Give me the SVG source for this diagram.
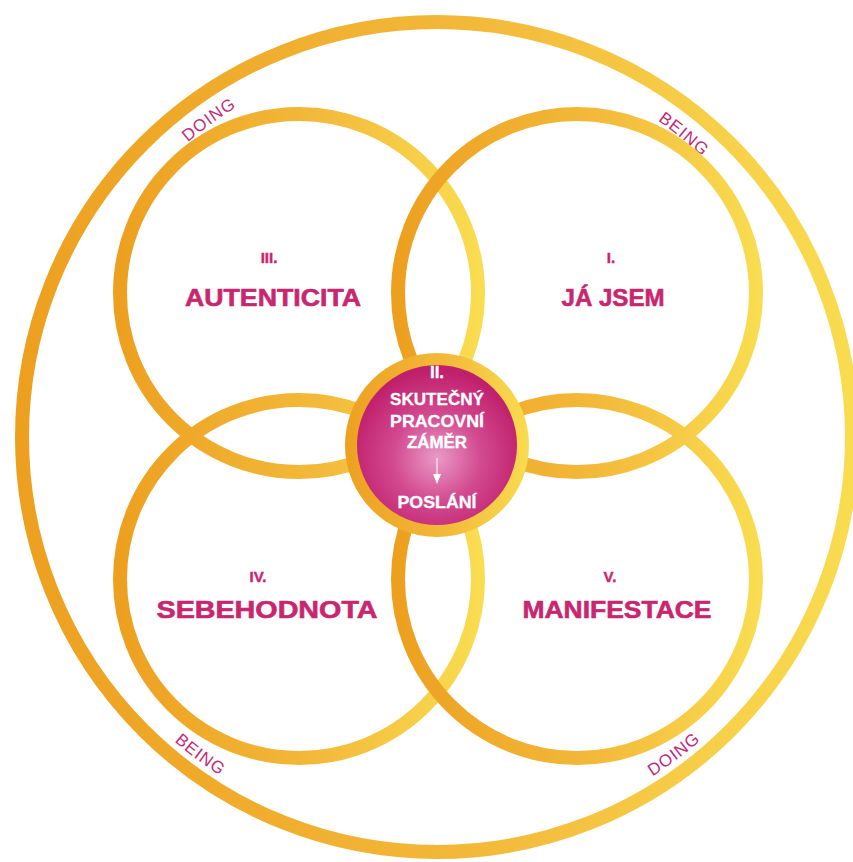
<svg xmlns="http://www.w3.org/2000/svg" width="853" height="862" viewBox="0 0 853 862">
<defs>
<linearGradient id="ring" x1="0" y1="0" x2="1" y2="0">
<stop offset="0" stop-color="#EDA020"/>
<stop offset="0.55" stop-color="#F3B93A"/>
<stop offset="1" stop-color="#F9DC50"/>
</linearGradient>
<radialGradient id="pink" cx="0.5" cy="0.58" r="0.55">
<stop offset="0" stop-color="#EA9AC6"/>
<stop offset="0.5" stop-color="#D24A90"/>
<stop offset="1" stop-color="#C01F6C"/>
</radialGradient>
<path id="p-doing1" d="M85.2,278.2 A386,386 0 0 1 398.7,52.9"/>
<path id="p-being1" d="M498.7,56 A386,386 0 0 1 797.8,299.9"/>
<path id="p-being2" d="M67.8,596 A402,402 0 0 0 390.1,836.3"/>
<path id="p-doing2" d="M484.2,836.2 A402,402 0 0 0 806.4,595.7"/>
</defs>
<style>
.ring{fill:none;stroke:url(#ring);stroke-width:14}
.num{font-family:"Liberation Sans",Arial,sans-serif;font-weight:bold;font-size:15px;fill:#C8266E;stroke:#C8266E;stroke-width:0.4;text-anchor:middle}
.big{font-family:"Liberation Sans",Arial,sans-serif;font-weight:bold;font-size:24px;fill:#C8266E;stroke:#C8266E;stroke-width:0.6;text-anchor:middle}
.wt{font-family:"Liberation Sans",Arial,sans-serif;font-weight:bold;font-size:17px;fill:#FFFFFF;stroke:#FFFFFF;stroke-width:0.3;text-anchor:middle}
.arc{font-family:"Liberation Sans",Arial,sans-serif;font-size:17px;fill:#C42A78;letter-spacing:1px;text-anchor:middle}
</style>
<rect width="853" height="862" fill="#FFFFFF"/>
<g id="outer">
<circle class="ring" cx="437" cy="437" r="415"/>
<text class="arc"><textPath href="#p-doing1" startOffset="50%">DOING</textPath></text>
<text class="arc"><textPath href="#p-being1" startOffset="50%">BEING</textPath></text>
<text class="arc"><textPath href="#p-being2" startOffset="50%">BEING</textPath></text>
<text class="arc"><textPath href="#p-doing2" startOffset="50%">DOING</textPath></text>
</g>
<g id="autenticita">
<circle class="ring" cx="299" cy="293" r="179"/>
<text class="num" x="269" y="263">III.</text>
<text class="big" x="273" y="306" textLength="176" lengthAdjust="spacingAndGlyphs">AUTENTICITA</text>
</g>
<g id="ja-jsem">
<circle class="ring" cx="577" cy="293" r="179"/>
<text class="num" x="611" y="263">I.</text>
<text class="big" x="613" y="306" textLength="103" lengthAdjust="spacingAndGlyphs">JÁ JSEM</text>
</g>
<g id="sebehodnota">
<circle class="ring" cx="299" cy="579" r="179"/>
<text class="num" x="258" y="582">IV.</text>
<text class="big" x="267" y="618" textLength="221" lengthAdjust="spacingAndGlyphs">SEBEHODNOTA</text>
</g>
<g id="manifestace">
<circle class="ring" cx="577" cy="579" r="179"/>
<text class="num" x="610" y="582">V.</text>
<text class="big" x="617" y="618" textLength="189" lengthAdjust="spacingAndGlyphs">MANIFESTACE</text>
</g>
<g id="center">
<circle cx="437" cy="445" r="92" fill="url(#ring)"/>
<circle cx="437" cy="445" r="80" fill="url(#pink)"/>
<text class="wt" x="437" y="378" font-size="15">II.</text>
<text class="wt" x="437" y="405" textLength="94" lengthAdjust="spacingAndGlyphs">SKUTEČNÝ</text>
<text class="wt" x="437" y="427" textLength="94" lengthAdjust="spacingAndGlyphs">PRACOVNÍ</text>
<text class="wt" x="437" y="448" textLength="60" lengthAdjust="spacingAndGlyphs">ZÁMĚR</text>
<line x1="437" y1="458" x2="437" y2="476" stroke="#FFFFFF" stroke-width="1"/>
<polygon points="433,474 441,474 437,484" fill="#FFFFFF"/>
<text class="wt" x="437" y="508" textLength="79" lengthAdjust="spacingAndGlyphs">POSLÁNÍ</text>
</g>
</svg>
